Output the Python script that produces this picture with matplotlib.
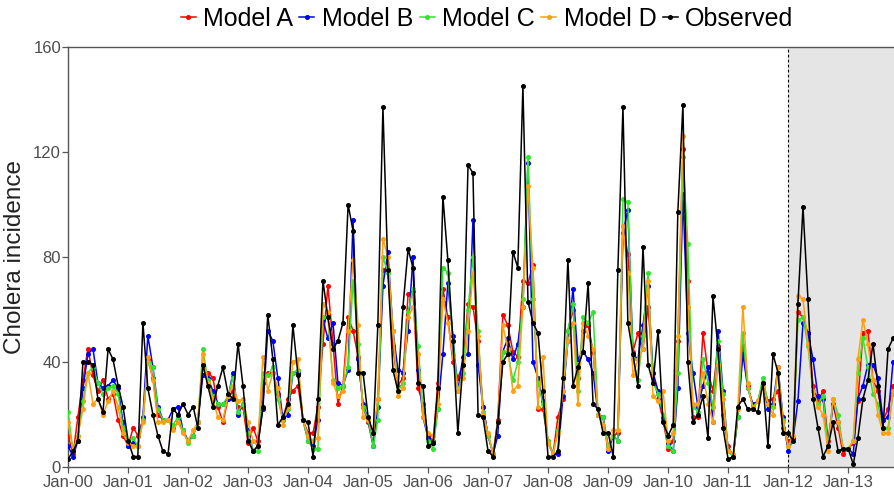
import numpy as np
import pandas as pd
import matplotlib
matplotlib.use('Agg')
import matplotlib.pyplot as plt
import matplotlib.dates as mdates

plt.rcParams['font.family'] = ['Liberation Sans', 'DejaVu Sans']

# monthly series, Jan-2000 .. Oct-2013
months = pd.date_range('2000-01-01', periods=166, freq='MS')

observed = [3, 6, 10, 40, 40, 39, 26, 21, 45, 41, 31, 23,
            10, 4, 4, 55, 30, 20, 12, 6, 5, 22, 20, 24,
            20, 23, 15, 39, 31, 23, 31, 38, 28, 26, 47, 31,
            10, 6, 8, 23, 58, 41, 16, 19, 24, 54, 35, 18,
            17, 4, 26, 71, 57, 45, 48, 55, 100, 90, 36, 36,
            19, 13, 54, 137, 75, 37, 29, 61, 83, 76, 32, 31,
            8, 9, 30, 103, 79, 48, 13, 39, 115, 112, 20, 19,
            6, 4, 17, 40, 43, 82, 76, 145, 63, 55, 51, 29,
            4, 4, 6, 34, 79, 31, 38, 44, 70, 24, 22, 13,
            13, 4, 75, 137, 55, 43, 31, 84, 39, 32, 52, 17,
            12, 16, 97, 138, 40, 17, 20, 27, 11, 65, 45, 15,
            3, 4, 23, 26, 22, 22, 21, 32, 8, 43, 36, 13,
            13, 10, 62, 99, 64, 26, 15, 4, 8, 17, 6, 7,
            7, 1, 11, 26, 33, 47, 31, 15, 45, 49]

model_a = [12, 5, 19, 33, 45, 35, 29, 33, 26, 28, 18, 12,
           8, 15, 12, 18, 41, 34, 20, 18, 18, 15, 17, 14,
           10, 12, 17, 38, 36, 34, 23, 17, 26, 29, 23, 23,
           9, 15, 10, 32, 36, 36, 28, 18, 26, 29, 31, 18,
           13, 13, 23, 47, 69, 47, 24, 31, 57, 52, 42, 23,
           17, 8, 26, 75, 75, 46, 31, 34, 66, 67, 30, 24,
           12, 10, 32, 68, 57, 40, 34, 39, 62, 61, 48, 23,
           12, 5, 18, 58, 54, 44, 42, 71, 70, 77, 22, 22,
           10, 5, 19, 26, 52, 60, 34, 52, 54, 44, 20, 19,
           8, 12, 13, 92, 81, 44, 51, 45, 61, 36, 26, 18,
           7, 10, 48, 121, 71, 19, 19, 51, 36, 29, 46, 20,
           8, 4, 19, 46, 31, 23, 25, 32, 25, 26, 29, 15,
           10, 11, 59, 57, 51, 31, 25, 29, 10, 24, 15, 5,
           7, 9, 25, 51, 52, 33, 29, 18, 22, 31]

model_b = [8, 4, 10, 30, 43, 45, 32, 30, 31, 33, 30, 17,
           8, 9, 8, 19, 50, 38, 23, 18, 18, 22, 23, 14,
           10, 12, 17, 35, 34, 29, 24, 24, 26, 36, 20, 24,
           14, 6, 8, 22, 52, 48, 34, 18, 20, 36, 36, 18,
           10, 8, 18, 56, 49, 55, 32, 31, 37, 94, 41, 24,
           18, 8, 23, 69, 82, 52, 37, 36, 52, 80, 37, 19,
           11, 9, 22, 43, 70, 50, 29, 42, 43, 94, 39, 23,
           12, 5, 12, 44, 49, 41, 47, 61, 116, 40, 34, 25,
           9, 5, 5, 27, 48, 68, 41, 44, 41, 36, 20, 19,
           6, 12, 10, 89, 98, 43, 41, 54, 69, 36, 29, 19,
           9, 6, 30, 104, 51, 36, 23, 31, 38, 17, 52, 29,
           6, 4, 19, 43, 30, 24, 25, 32, 22, 24, 38, 19,
           6, 11, 25, 55, 51, 41, 27, 26, 8, 24, 17, 7,
           7, 5, 26, 31, 39, 39, 34, 18, 19, 40]

model_c = [21, 6, 12, 25, 36, 38, 32, 28, 30, 31, 28, 15,
           10, 11, 8, 18, 40, 38, 22, 18, 18, 16, 19, 14,
           9, 12, 17, 45, 33, 27, 24, 24, 27, 34, 21, 24,
           13, 6, 6, 36, 35, 38, 26, 18, 22, 36, 37, 18,
           10, 7, 7, 57, 57, 33, 30, 31, 38, 71, 47, 23,
           18, 8, 18, 80, 74, 52, 29, 32, 59, 68, 46, 22,
           10, 7, 22, 76, 74, 48, 29, 36, 60, 80, 52, 21,
           12, 5, 17, 44, 44, 33, 40, 64, 118, 64, 32, 24,
           10, 5, 14, 29, 52, 62, 29, 57, 55, 59, 20, 19,
           8, 12, 10, 102, 101, 41, 33, 50, 74, 32, 28, 20,
           8, 6, 36, 118, 85, 23, 21, 41, 32, 23, 48, 28,
           6, 4, 19, 51, 30, 23, 25, 34, 24, 23, 36, 18,
           8, 10, 56, 57, 46, 29, 24, 27, 8, 26, 20, 7,
           7, 10, 36, 49, 38, 28, 24, 15, 15, 28]

model_d = [17, 6, 12, 22, 36, 24, 26, 20, 25, 29, 23, 13,
           9, 8, 8, 17, 42, 33, 17, 17, 18, 14, 17, 13,
           10, 14, 17, 43, 32, 26, 19, 18, 27, 31, 25, 26,
           17, 10, 8, 42, 29, 36, 30, 16, 23, 40, 41, 18,
           12, 10, 11, 62, 59, 32, 27, 29, 52, 79, 54, 19,
           18, 13, 26, 87, 80, 52, 27, 30, 57, 61, 43, 19,
           13, 12, 24, 64, 55, 42, 29, 34, 52, 74, 50, 20,
           13, 5, 17, 54, 45, 29, 31, 61, 107, 76, 23, 42,
           9, 5, 13, 29, 48, 55, 24, 55, 50, 45, 20, 16,
           7, 14, 14, 92, 74, 35, 41, 45, 71, 27, 25, 29,
           10, 13, 50, 126, 61, 24, 24, 36, 24, 17, 39, 26,
           6, 5, 22, 61, 32, 22, 25, 31, 24, 20, 38, 17,
           8, 12, 65, 64, 47, 29, 23, 20, 6, 26, 17, 7,
           7, 10, 41, 56, 47, 33, 20, 13, 13, 29]

series = [('Model A', model_a, '#FF0000'),
          ('Model B', model_b, '#0000FF'),
          ('Model C', model_c, '#2EE62E'),
          ('Model D', model_d, '#FFA010'),
          ('Observed', observed, '#000000')]

yticks = [0, 40, 80, 120, 160]
forecast_start = pd.Timestamp('2012-01-01')
x_end = pd.Timestamp('2013-10-13')

fig = plt.figure(figsize=(8.95, 4.92), dpi=100)
ax = fig.add_axes([68 / 895, 25 / 492, 827 / 895, 420 / 492])

ax.axvspan(forecast_start, x_end, color='#E5E5E5', zorder=0, lw=0)
ax.axvline(forecast_start, color='black', lw=0.8, ls=(0, (2.5, 2)), zorder=1)

for name, vals, col in series:
    ax.plot(months, vals, color=col, lw=1.1, marker='o', ms=2.6,
            mec=col, mfc=col, label=name, zorder=3)

ax.set_xlim(months[0], x_end)
ax.set_ylim(0, 160)
ax.set_yticks(yticks)
ax.xaxis.set_major_locator(mdates.YearLocator())
ax.xaxis.set_major_formatter(mdates.DateFormatter('%b-%y'))

for s in ax.spines.values():
    s.set_color('#555555')
    s.set_linewidth(1.0)

ax.tick_params(axis='both', direction='out', length=4, width=0.9,
               color='#555555', labelcolor='#4D4D4D', labelsize=12)
ax.tick_params(axis='x', pad=2)
ax.tick_params(axis='y', pad=1)

ax.set_ylabel('Cholera incidence', fontsize=17.5, color='#222222')
ax.yaxis.set_label_coords(-42 / 827, 0.5)

fig.legend(loc='center', bbox_to_anchor=(487 / 895, 1 - 19 / 492), ncol=5,
           frameon=False, fontsize=18, handlelength=0.6, handletextpad=0.3,
           columnspacing=0.25, borderaxespad=0, borderpad=0)

plt.savefig('out.png', dpi=100)
